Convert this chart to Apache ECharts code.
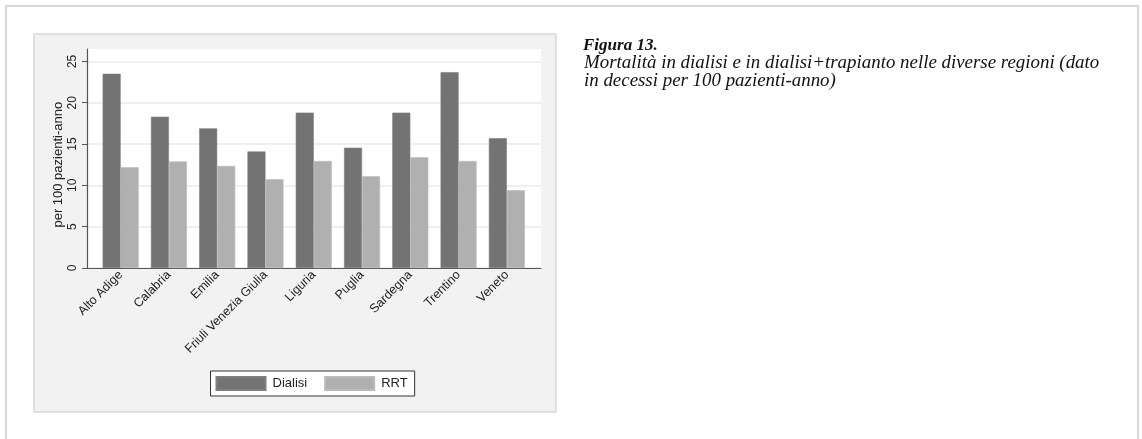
<!DOCTYPE html>
<html>
<head>
<meta charset="utf-8">
<script src="https://cdn.jsdelivr.net/npm/echarts@6/dist/echarts.min.js"></script>
<style>
html,body{margin:0;padding:0;background:#fff;}
#c{width:1142px;height:439px;}
</style>
</head>
<body>
<div id="c"></div>
<script>
const categories = ['Alto Adige','Calabria','Emilia','Friuli Venezia Giulia','Liguria','Puglia','Sardegna','Trentino','Veneto'];
const dialisi = [23.5, 18.3, 16.9, 14.1, 18.8, 14.55, 18.8, 23.7, 15.7];
const rrt = [12.2, 12.9, 12.35, 10.75, 12.95, 11.1, 13.4, 12.95, 9.4];
const yTicks = {min: 0, max: 25, interval: 5};
const yName = 'per 100 pazienti-anno';
const seriesNames = ['Dialisi', 'RRT'];
const captionTitle = 'Figura 13.';
const captionLines = ['Mortalità in dialisi e in dialisi+trapianto nelle diverse regioni (dato', 'in decessi per 100 pazienti-anno)'];

const chart = echarts.init(document.getElementById('c'), null, {renderer: 'canvas'});
const sans = 'Liberation Sans, Arial, sans-serif';
const serif = 'Liberation Serif, serif';

// plot geometry
const plotLeft = 87, plotTop = 49, plotW = 454, plotH = 219;
const pxPerUnit = plotH / 26.5;
const innerTop = plotTop + plotH - yTicks.max * pxPerUnit;
const innerH = yTicks.max * pxPerUnit;

chart.setOption({
  animation: false,
  backgroundColor: '#ffffff',
  graphic: [
    {type: 'rect', z: -10, shape: {x: 6, y: 6, width: 1132, height: 445}, style: {fill: '#fff', stroke: '#d6d6d6', lineWidth: 2}},
    {type: 'rect', z: -9, shape: {x: 34, y: 34, width: 522, height: 378}, style: {fill: '#f2f2f2', stroke: '#d9d9d9', lineWidth: 1.5}},
    {type: 'text', left: 583, top: 37, style: {text: captionTitle, font: 'italic bold 17px ' + serif, fill: '#111'}},
    {type: 'text', left: 584, top: 54, style: {text: captionLines.join('\n'), font: 'italic 18.9px ' + serif, fill: '#111', lineHeight: 18}}
  ],
  grid: [
    {left: plotLeft, top: plotTop, width: plotW, height: plotH, show: true, backgroundColor: '#fff', borderWidth: 0, containLabel: false},
    {left: plotLeft, top: innerTop, width: plotW, height: innerH, show: false},
    {left: 96.5, top: innerTop, width: 434.5, height: innerH, show: false}
  ],
  xAxis: [
    {gridIndex: 0, type: 'value', min: 0, max: 1, axisLine: {show: true, onZero: false, lineStyle: {color: '#555', width: 1.2}}, axisTick: {show: false}, axisLabel: {show: false}, splitLine: {show: false}},
    {gridIndex: 1, type: 'value', min: 0, max: 1, show: false},
    {gridIndex: 2, type: 'category', data: categories, axisLine: {show: false}, axisTick: {show: false},
      axisLabel: {rotate: 45, interval: 0, margin: 5, fontFamily: sans, fontSize: 12.5, color: '#222'}}
  ],
  yAxis: [
    {gridIndex: 0, type: 'value', min: 0, max: 1, axisLine: {show: true, onZero: false, lineStyle: {color: '#555', width: 1.2}}, axisTick: {show: false}, axisLabel: {show: false}, splitLine: {show: false}},
    {gridIndex: 1, type: 'value', min: yTicks.min, max: yTicks.max, interval: yTicks.interval,
      axisLine: {show: false}, axisTick: {show: true, length: 5, lineStyle: {color: '#555'}},
      axisLabel: {rotate: 90, margin: 8, fontFamily: sans, fontSize: 12, color: '#222'},
      splitLine: {show: true, lineStyle: {color: '#eaeaea', width: 1.5}},
      name: yName, nameLocation: 'middle', nameGap: 22, nameRotate: 90,
      nameTextStyle: {fontFamily: sans, fontSize: 13, color: '#222'}},
    {gridIndex: 2, type: 'value', min: yTicks.min, max: yTicks.max, show: false}
  ],
  legend: {
    data: seriesNames, left: 210.5, top: 371, orient: 'horizontal',
    itemWidth: 49, itemHeight: 13, itemGap: 17, icon: 'rect',
    padding: [5, 7, 5, 5], borderColor: '#333', borderWidth: 1, backgroundColor: '#fff',
    textStyle: {fontFamily: sans, fontSize: 13, color: '#222', padding: [0, 0, 0, 2]}
  },
  series: [
    {name: seriesNames[0], type: 'bar', xAxisIndex: 2, yAxisIndex: 2, data: dialisi, barWidth: 18, barGap: '0%',
      itemStyle: {color: '#737373', borderColor: '#7e7e7e', borderWidth: 0.6}},
    {name: seriesNames[1], type: 'bar', xAxisIndex: 2, yAxisIndex: 2, data: rrt, barWidth: 18, barGap: '0%',
      itemStyle: {color: '#b0b0b0', borderColor: '#bababa', borderWidth: 0.6}}
  ]
});
</script>
</body>
</html>
